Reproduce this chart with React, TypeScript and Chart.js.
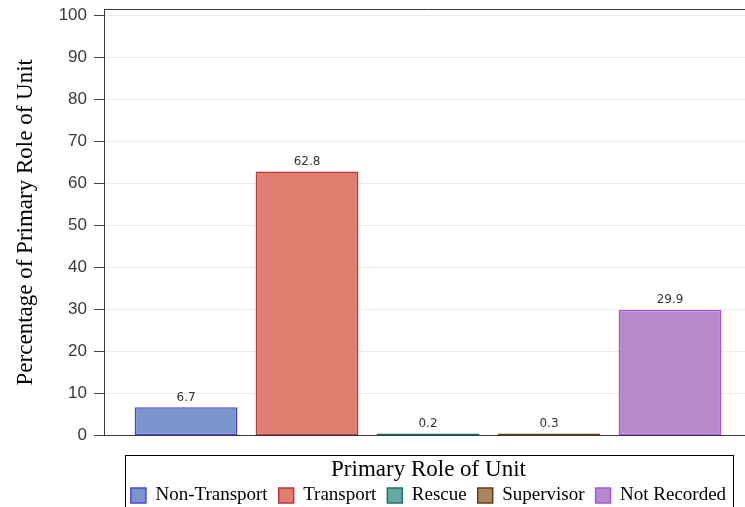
import React, { useEffect, useRef } from 'react';
import { Chart, registerables } from 'chart.js';

Chart.register(...registerables);

// ---- data ----
const categories = ['Non-Transport', 'Transport', 'Rescue', 'Supervisor', 'Not Recorded'];
const percentages = [6.7, 62.8, 0.2, 0.3, 29.9];
const yTickValues = [0, 10, 20, 30, 40, 50, 60, 70, 80, 90, 100];
const yAxisTitle = 'Percentage of Primary Role of Unit';
const legendTitle = 'Primary Role of Unit';

// ---- styles ----
const fillColors = ['#7B96CC', '#DE7E6E', '#66A8A0', '#A8875E', '#B589CC'];
const borderColors = ['#4646DE', '#C0303E', '#1A7068', '#5E3F12', '#A855E6'];
const frameColor = '#3a3a3a';

const valueLabelPlugin = {
  id: 'valueLabels',
  afterDatasetsDraw(chart: any) {
    const ctx = chart.ctx;
    const meta = chart.getDatasetMeta(0);
    ctx.save();
    ctx.font = '12px "DejaVu Sans"';
    ctx.fillStyle = '#333333';
    ctx.textAlign = 'center';
    ctx.textBaseline = 'alphabetic';
    meta.data.forEach((bar: any, i: number) => {
      ctx.fillText(percentages[i].toFixed(1), bar.x, bar.y - 6.5);
    });
    ctx.restore();
  },
};

const framePlugin = {
  id: 'frame',
  afterDraw(chart: any) {
    const { ctx, chartArea } = chart;
    ctx.save();
    ctx.strokeStyle = frameColor;
    ctx.lineWidth = 1;
    ctx.beginPath();
    const y = Math.round(chartArea.top) + 0.5;
    ctx.moveTo(chartArea.left, y);
    ctx.lineTo(chartArea.right, y);
    ctx.stroke();

    const lg = chart.legend;
    if (lg && lg.legendHitBoxes && lg.legendHitBoxes.length) {
      const boxes = lg.legendHitBoxes;
      const l = Math.min(...boxes.map((b: any) => b.left)) - 6;
      const r = Math.max(...boxes.map((b: any) => b.left + b.width)) + 7;
      ctx.strokeStyle = '#000000';
      ctx.strokeRect(Math.round(l) + 0.5, Math.round(lg.top) + 0.5, Math.round(r - l), lg.bottom - lg.top);
    }
    ctx.restore();
  },
};

export default function App() {
  const canvasRef = useRef<HTMLCanvasElement | null>(null);

  useEffect(() => {
    const canvas = canvasRef.current;
    if (!canvas) return;
    const chart = new Chart(canvas, {
      type: 'bar',
      data: {
        datasets: [
          {
            data: categories.map((c, i) => ({ x: i, y: percentages[i] })),
            backgroundColor: fillColors,
            borderColor: borderColors,
            borderWidth: 1.5,
            borderSkipped: false,
            minBarLength: 2,
            categoryPercentage: 1,
            barPercentage: 0.85,
          },
        ],
      },
      options: {
        responsive: false,
        animation: false,
        devicePixelRatio: 1,
        layout: { padding: { top: 9, left: 0, right: 0, bottom: 0 } },
        scales: {
          x: {
            type: 'linear',
            bounds: 'data',
            offset: false,
            min: -0.678,
            max: 4.686,
            afterBuildTicks(scale: any) {
              scale.ticks = categories.map((c, i) => ({ value: i }));
            },
            ticks: { display: false },
            grid: { display: false, offset: false },
            border: { display: true, color: frameColor, width: 1 },
            afterFit(scale: any) {
              scale.height = 19.5;
              scale.paddingLeft = 0;
              scale.paddingRight = 0;
            },
          },
          y: {
            type: 'linear',
            bounds: 'data',
            min: 0,
            max: 101.5,
            afterBuildTicks(scale: any) {
              scale.ticks = yTickValues.map((v) => ({ value: v }));
            },
            ticks: {
              color: '#3a3a3a',
              padding: 7,
              font: { family: '"Liberation Sans"', size: 17 },
            },
            grid: {
              color: '#ebebeb',
              lineWidth: 1,
              drawTicks: true,
              tickLength: 10,
              tickColor: '#444444',
            },
            border: { display: true, color: frameColor, width: 1 },
            title: {
              display: true,
              text: yAxisTitle,
              color: '#000000',
              font: { family: '"Liberation Serif"', size: 23 },
              padding: { top: 12, bottom: 0 },
            },
            afterFit(scale: any) {
              scale.width = 104;
              scale.paddingTop = 0;
              scale.paddingBottom = 0;
            },
          },
        },
        plugins: {
          tooltip: { enabled: false },
          legend: {
            display: true,
            position: 'bottom',
            fullSize: false,
            align: 'center',
            onClick: () => {},
            title: {
              display: true,
              text: legendTitle,
              color: '#000000',
              font: { family: '"Liberation Serif"', size: 23, lineHeight: 1 },
              padding: { top: 3, bottom: -6 },
            },
            labels: {
              boxWidth: 15,
              boxHeight: 15,
              padding: 11,
              color: '#000000',
              font: { family: '"Liberation Serif"', size: 19 },
              generateLabels: () =>
                categories.map((c, i) => ({
                  text: c,
                  fillStyle: fillColors[i],
                  strokeStyle: borderColors[i],
                  lineWidth: 1.5,
                  hidden: false,
                  index: i,
                  datasetIndex: 0,
                })),
            },
          },
        },
      },
      plugins: [valueLabelPlugin, framePlugin],
    } as any);
    return () => chart.destroy();
  }, []);

  return (
    <div style={{ position: 'absolute', left: 0, top: 0, width: 745, height: 507, overflow: 'hidden', background: '#fff' }}>
      <canvas ref={canvasRef} width={753} height={515} style={{ display: 'block', width: 753, height: 515 }} />
    </div>
  );
}
